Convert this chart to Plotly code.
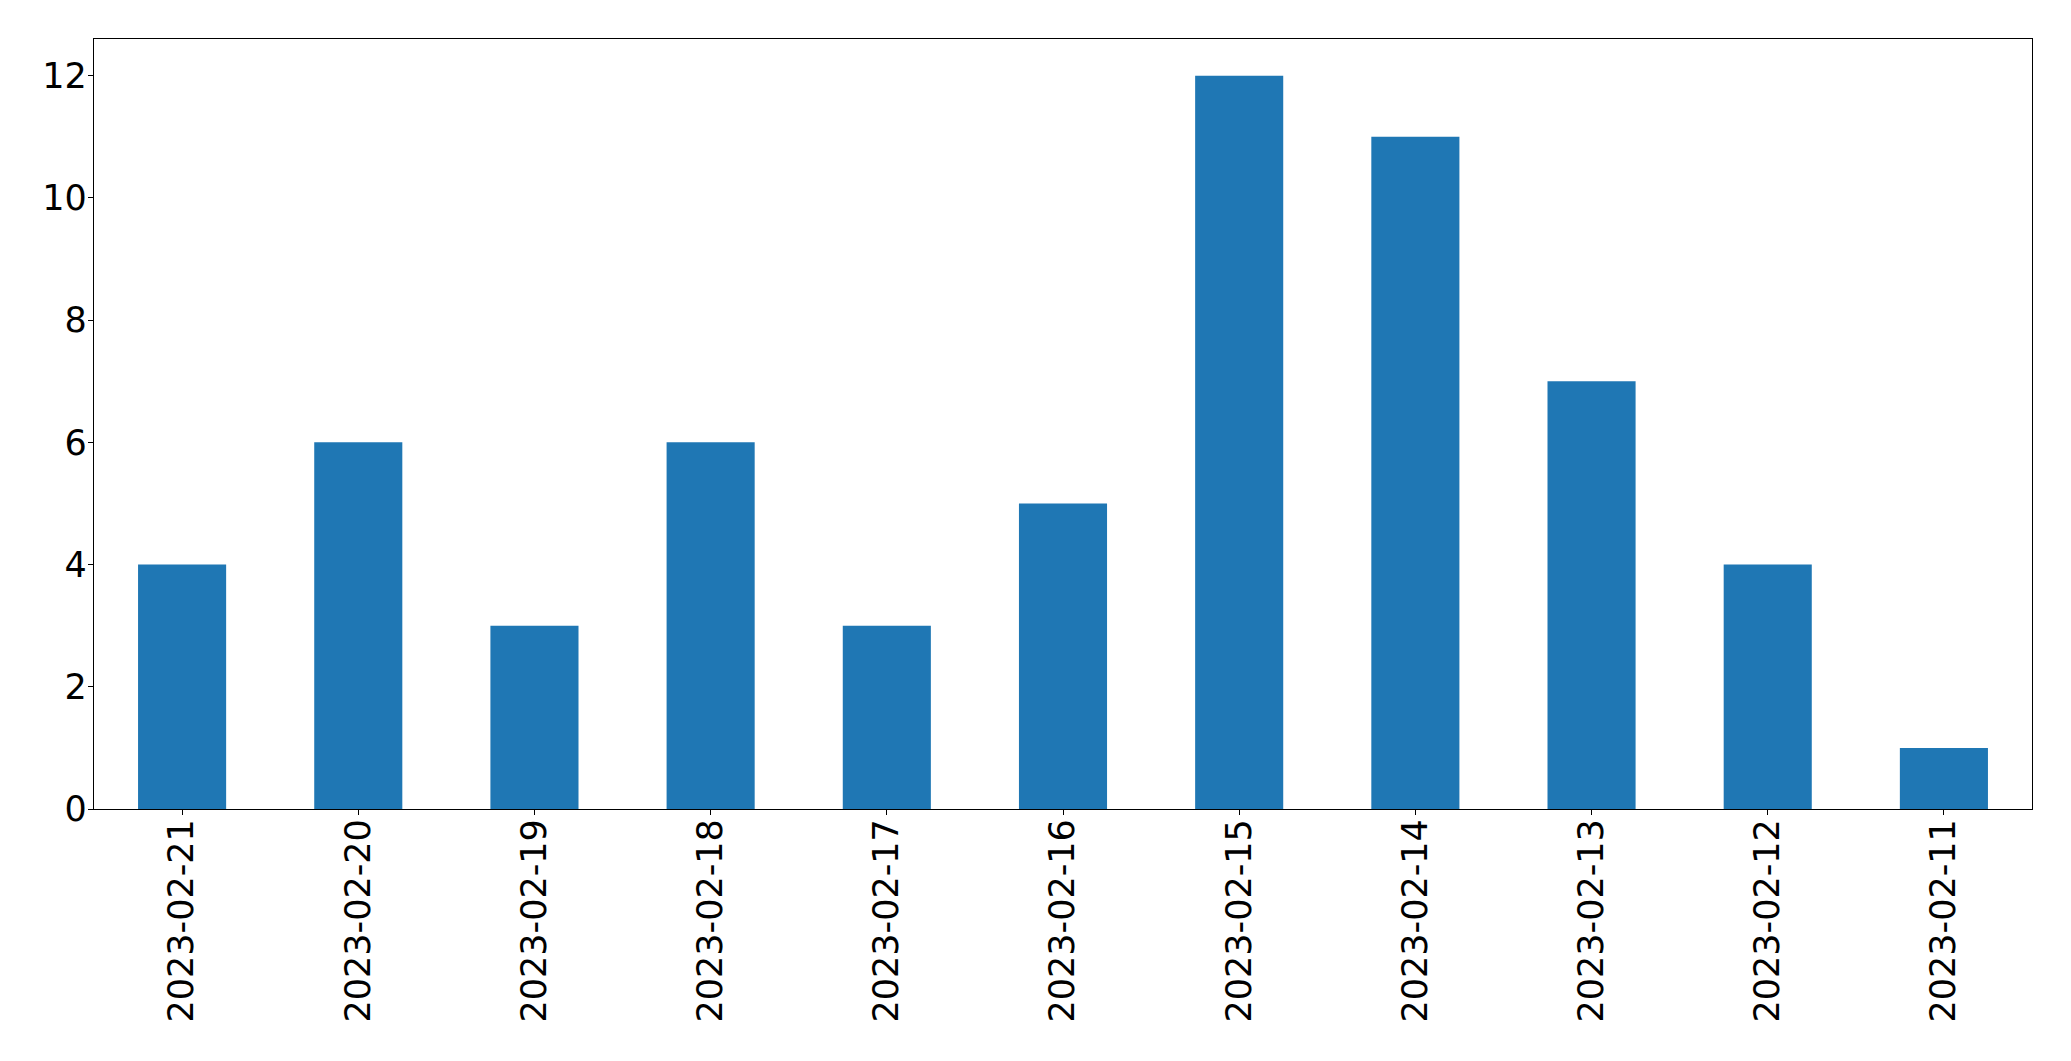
import plotly.graph_objects as go

dates = ["2023-02-21", "2023-02-20", "2023-02-19", "2023-02-18", "2023-02-17",
         "2023-02-16", "2023-02-15", "2023-02-14", "2023-02-13", "2023-02-12",
         "2023-02-11"]
counts = [4, 6, 3, 6, 3, 5, 12, 11, 7, 4, 1]
y_ticks = [0, 2, 4, 6, 8, 10, 12]

fig = go.Figure(go.Bar(x=dates, y=counts, marker_color="#1f77b4",
                       marker_line_width=0))

font = dict(family="DejaVu Sans", size=35, color="black")
# the page body adds an 8px offset; margins compensate for it
fig.update_layout(
    width=2071, height=1061,
    margin=dict(l=86, r=47, t=31, b=260, autoexpand=False),
    paper_bgcolor="white", plot_bgcolor="white",
    bargap=0.5, showlegend=False,
    font=font,
)
fig.update_xaxes(type="category", range=[-0.5, len(dates) - 0.5],
                 showline=True, mirror=True, linecolor="black", linewidth=1.3,
                 ticks="outside", ticklen=5, tickwidth=1.3, tickcolor="black",
                 tickangle=-90, tickfont=font, showgrid=False, zeroline=False,
                 ticklabelstandoff=-10)
fig.update_yaxes(range=[0, 12.6], tickvals=y_ticks,
                 showline=True, mirror=True, linecolor="black", linewidth=1.3,
                 ticks="outside", ticklen=5, tickwidth=1.3, tickcolor="black",
                 tickfont=font, showgrid=False, zeroline=False,
                 ticklabelstandoff=-6)

fig.write_html("out.html")
